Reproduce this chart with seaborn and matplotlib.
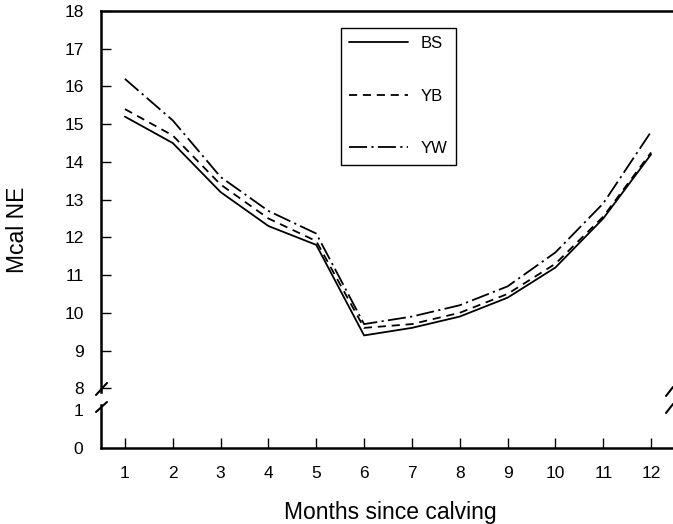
"""
Net energy requirement (Mcal NE) by month since calving, three breed groups.
Broken y axis: 0-1 stub at the bottom, 8-18 above.
"""
import matplotlib
matplotlib.use("Agg")
import matplotlib.pyplot as plt
from matplotlib.lines import Line2D
import pandas as pd
import seaborn as sns

# ----------------------------------------------------------------------
# Data
# ----------------------------------------------------------------------
months = [1, 2, 3, 4, 5, 6, 7, 8, 9, 10, 11, 12]
bs = [15.2, 14.5, 13.2, 12.3, 11.8, 9.4, 9.6, 9.9, 10.4, 11.2, 12.5, 14.2]
yb = [15.4, 14.7, 13.4, 12.5, 11.9, 9.6, 9.7, 10.0, 10.5, 11.3, 12.55, 14.25]
yw = [16.2, 15.1, 13.6, 12.7, 12.1, 9.7, 9.9, 10.2, 10.7, 11.6, 12.9, 14.8]
breeds = ["BS", "YB", "YW"]

top_ticks = [8, 9, 10, 11, 12, 13, 14, 15, 16, 17, 18]
bottom_ticks = [0, 1]

df = pd.DataFrame({
    "month": months * 3,
    "mcal": bs + yb + yw,
    "breed": [b for b in breeds for _ in months],
})

# ----------------------------------------------------------------------
# Style
# ----------------------------------------------------------------------
sns.set_style("ticks")
plt.rcParams["font.family"] = ["Liberation Sans", "DejaVu Sans"]
plt.rcParams.update({
    "axes.linewidth": 1.8,
    "axes.edgecolor": "black",
    "text.color": "black",
    "axes.labelcolor": "black",
    "xtick.color": "black",
    "ytick.color": "black",
})

W, H = 673, 524
fig = plt.figure(figsize=(W / 100, H / 100), dpi=100)


def px(x0, y_top, x1, y_bot):
    """pixel box (from top-left) -> figure fraction rect"""
    return [x0 / W, 1 - y_bot / H, (x1 - x0) / W, (y_bot - y_top) / H]


ax = fig.add_axes(px(101, 11, 675, 392))
ax_lo = fig.add_axes(px(101, 404.7, 675, 448))

dashes = {"BS": "", "YB": (4.5, 3.2), "YW": (10, 2.4, 1.2, 2.4)}
sns.lineplot(data=df, x="month", y="mcal", style="breed", dashes=dashes,
             color="black", linewidth=1.3, ax=ax)

# top part
ax.set_xlim(0.5, 12.5)
ax.set_ylim(7.9, 18)
ax.set_yticks(top_ticks)
ax.set_xticks([])
ax.set_xlabel("")
ax.set_ylabel("")
ax.spines["bottom"].set_visible(False)
ax.spines["right"].set_visible(False)
ax.tick_params(axis="y", direction="in", length=7, width=1, pad=12,
               labelsize=12.5)
for t in ax.yaxis.get_major_ticks():
    if t.get_loc() in (8, 18):
        t.tick1line.set_visible(False)

# bottom stub
ax_lo.set_xlim(0.5, 12.5)
ax_lo.set_ylim(0, 1.15)
ax_lo.set_yticks(bottom_ticks)
ax_lo.set_xticks(months)
ax_lo.spines["top"].set_visible(False)
ax_lo.spines["right"].set_visible(False)
ax_lo.tick_params(axis="y", length=0, pad=13, labelsize=12.5)
ax_lo.tick_params(axis="x", direction="in", length=7, width=1, pad=13,
                  labelsize=12.5)
ax_lo.set_facecolor("none")
ax.set_facecolor("none")

# legend
handles, labels = ax.get_legend_handles_labels()
leg = ax.legend(handles, labels, loc="upper left",
                bbox_to_anchor=(341 / W, 1 - 28 / H),
                bbox_transform=fig.transFigure,
                fontsize=12, handlelength=3.5, handletextpad=0.8,
                labelspacing=2.25, borderpad=0.5, borderaxespad=0,
                fancybox=False, framealpha=1, edgecolor="black")
leg.get_frame().set_linewidth(1.0)
for h in leg.get_lines():
    h.set_linewidth(1.3)

# axis break marks
for (xa, ya, xb, yb_) in [(96, 395, 107, 383), (96, 412, 107, 402),
                          (666, 396, 673, 387), (666, 413, 673, 404)]:
    fig.add_artist(Line2D([xa / W, xb / W], [1 - ya / H, 1 - yb_ / H],
                          transform=fig.transFigure, color="black",
                          linewidth=1.5))

fig.text(18 / W, 1 - 230 / H, "Mcal NE", rotation=90, ha="center",
         va="center", fontsize=16.5)
fig.text(390 / W, 1 - 513 / H, "Months since calving", ha="center",
         va="center", fontsize=16.5)

fig.savefig("out.png", dpi=100)
